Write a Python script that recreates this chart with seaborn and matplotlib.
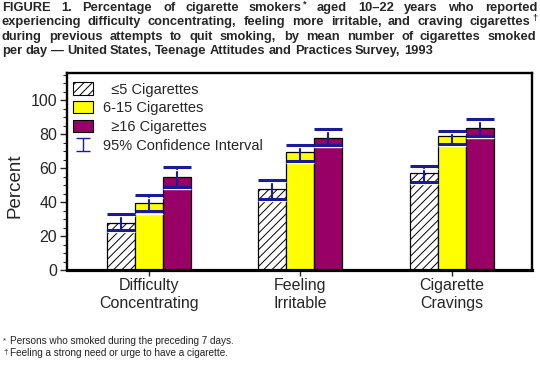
import numpy as np
import pandas as pd
import matplotlib
matplotlib.use("Agg")
import matplotlib.pyplot as plt
import matplotlib.patheffects as pe
from matplotlib.patches import Patch
from matplotlib.container import ErrorbarContainer
from matplotlib.legend_handler import HandlerErrorbar
import seaborn as sns

# ===============================
# Data
# ===============================
symptoms = ["Difficulty\nConcentrating", "Feeling\nIrritable", "Cigarette\nCravings"]
groups = ["≤5 Cigarettes", "6-15 Cigarettes", "≥16 Cigarettes"]
pct_le5 = [28, 47.5, 57]
pct_6_15 = [39.5, 69.5, 79]
pct_ge16 = [55, 78, 83.5]
ci_low = [[23.5, 42, 52], [34.5, 64.5, 74.5], [49, 73.5, 79]]
ci_high = [[33, 53, 61], [44, 73.5, 82], [60.5, 83, 89]]

colors = ["white", "#FFFF00", "#990066"]
ci_color = "#1a1a9c"

df = pd.DataFrame({
    "symptom": symptoms * 3,
    "group": np.repeat(groups, 3),
    "pct": pct_le5 + pct_6_15 + pct_ge16,
})

# ===============================
# Plot
# ===============================
sns.set_style("white")
plt.rcParams["font.family"] = ["Liberation Sans", "DejaVu Sans"]
plt.rcParams["hatch.linewidth"] = 0.7

fig = plt.figure(figsize=(5.4, 3.65), dpi=100)
ax = fig.add_axes([0.124, 0.26, 0.861, 0.54])

sns.barplot(data=df, x="symptom", y="pct", hue="group", palette=colors,
            saturation=1, width=0.555, edgecolor="black", linewidth=0.9,
            errorbar=None, legend=False, ax=ax)

bar_conts = list(ax.containers)
for p in bar_conts[0]:
    p.set_hatch("////")

cap_fx = [pe.Stroke(offset=(0, -1.6), linewidth=1.0, foreground="white"), pe.Normal()]
for i, cont in enumerate(bar_conts):
    xs = [p.get_x() + p.get_width() / 2 for p in cont]
    vals = [p.get_height() for p in cont]
    lo = np.array(vals) - np.array(ci_low[i])
    hi = np.array(ci_high[i]) - np.array(vals)
    eb = ax.errorbar(xs, vals, yerr=[lo, hi], fmt="none", ecolor=ci_color,
                     elinewidth=1.5, capsize=10, capthick=2.2, zorder=5)
    for cl in eb[1]:
        cl.set_path_effects(cap_fx)

# small proxy for the legend symbol
ci_proxy = ax.errorbar([np.nan], [np.nan], yerr=[[1], [1]], fmt="none",
                       ecolor=ci_color, elinewidth=1.0, capsize=5, capthick=1.0)

ax.set_xlim(-0.54, 2.53)
ax.set_ylim(0, 116)
ax.set_yticks([0, 20, 40, 60, 80, 100])
ax.set_yticks(np.arange(0, 116, 5), minor=True)
ax.tick_params(axis="y", which="major", direction="out", length=5, width=1,
               labelsize=11.5, left=True, pad=2)
ax.tick_params(axis="y", which="minor", direction="out", length=3, width=0.8, left=True)
ax.tick_params(axis="x", direction="out", length=4, width=1, labelsize=11.5,
               bottom=True, pad=2)
ax.set_xlabel("")
ax.set_ylabel("Percent", fontsize=13.5)
ax.yaxis.set_label_coords(-0.094, 0.43)

for s in ax.spines.values():
    s.set_visible(True)
    s.set_color("black")
    s.set_linewidth(1.7)
ax.spines["bottom"].set_linewidth(2.3)

handles = [Patch(facecolor="white", edgecolor="black", hatch="////", linewidth=0.8),
           Patch(facecolor=colors[1], edgecolor="black", linewidth=0.8),
           Patch(facecolor=colors[2], edgecolor="black", linewidth=0.8),
           ci_proxy]
labels = ["  " + groups[0], groups[1], "  " + groups[2], "95% Confidence Interval"]
ax.legend(handles, labels, loc="upper left", bbox_to_anchor=(-0.007, 1.0),
          frameon=False, fontsize=10.5, handlelength=1.35, handleheight=0.9,
          labelspacing=0.33, handletextpad=0.7, borderpad=0.45, borderaxespad=0.2,
          handler_map={ErrorbarContainer: HandlerErrorbar(yerr_size=0.45)})

# ===============================
# Title (justified) & footnotes
# ===============================
title_lines = [
    "FIGURE 1. Percentage of cigarette smokers* aged 10–22 years who reported",
    "experiencing difficulty concentrating, feeling more irritable, and craving cigarettes†",
    "during previous attempts to quit smoking, by mean number of cigarettes smoked",
    "per day — United States, Teenage Attitudes and Practices Survey, 1993",
]
baselines = [11, 25, 40, 54]   # pixel rows, kept integer so words line up
renderer = fig.canvas.get_renderer()
W, H = 540, 365
x_left, x_right = 2, 537
title_fs = 9.3
for k, line in enumerate(title_lines):
    y = 1 - baselines[k] / H
    words = line.split(" ")
    pieces = []
    for w in words:
        sup = ""
        if w[-1] in "*†":
            w, sup = w[:-1], w[-1]
        t = fig.text(0, y, w, fontsize=title_fs, fontweight="bold", va="baseline")
        wd = t.get_window_extent(renderer).width
        s = None
        swd = 0
        if sup:
            s = fig.text(0, y + 4 / H, sup, fontsize=6.5, fontweight="bold", va="baseline")
            swd = s.get_window_extent(renderer).width + 1
        pieces.append((t, wd, s, swd))
    total = sum(p[1] + p[3] for p in pieces)
    if k < len(title_lines) - 1:
        gap = (x_right - x_left - total) / (len(pieces) - 1)
    else:
        gap = 3.2
    x = x_left
    for t, wd, s, swd in pieces:
        t.set_x(round(x) / W)
        if s is not None:
            s.set_x(round(x + wd + 0.5) / W)
        x += wd + swd + gap

fig.text(0.006, 1 - 342 / H, "*", fontsize=5.5, va="baseline", color="#222222")
fig.text(0.018, 1 - 344 / H, "Persons who smoked during the preceding 7 days.",
         fontsize=7.2, va="baseline", ha="left", color="#222222")
fig.text(0.006, 1 - 354 / H, "†", fontsize=6, va="baseline", color="#222222")
fig.text(0.018, 1 - 356 / H, "Feeling a strong need or urge to have a cigarette.",
         fontsize=7.2, va="baseline", ha="left", color="#222222")

fig.savefig("out.png", dpi=100)
